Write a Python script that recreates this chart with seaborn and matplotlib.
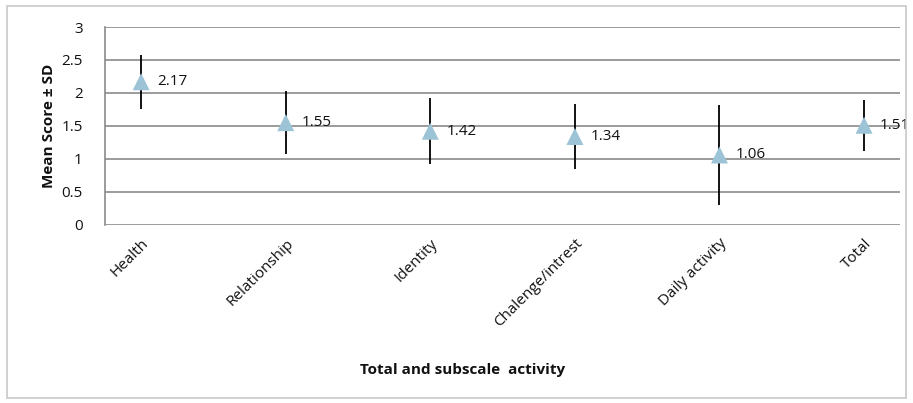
import matplotlib
matplotlib.use("Agg")
import matplotlib.pyplot as plt
from matplotlib.patches import Rectangle
import seaborn as sns
import pandas as pd

categories = ['Health', 'Relationship', 'Identity', 'Chalenge/intrest', 'Daily activity', 'Total']
means = [2.17, 1.55, 1.42, 1.34, 1.06, 1.51]
sds = [0.41, 0.48, 0.50, 0.50, 0.76, 0.39]

df = pd.DataFrame({'cat': categories, 'mean': means, 'sd': sds})
df['pos'] = range(len(df))

sns.set_style('white')
plt.rcParams['font.family'] = ['Open Sans', 'DejaVu Sans']
plt.rcParams['text.color'] = '#111111'
plt.rcParams['xtick.color'] = '#111111'
plt.rcParams['ytick.color'] = '#111111'
plt.rcParams['axes.labelcolor'] = '#111111'

fig = plt.figure(figsize=(9.13, 4.03), dpi=100)
ax = fig.add_axes([0.115, 0.442, 0.871, 0.491])

ax.errorbar(df['pos'], df['mean'], yerr=df['sd'], fmt='none', ecolor='black',
            elinewidth=1.3, capsize=0, zorder=2)
sns.scatterplot(data=df, x='pos', y='mean', marker='^', s=150, color='#9cc4d6',
                edgecolor='none', ax=ax, zorder=3)

for p, m in zip(df['pos'], df['mean']):
    ax.text(p + 0.11, m, f'{m:.2f}', va='center', ha='left', fontsize=11, zorder=4)

ax.set_xlim(-0.25, 5.25)
ax.set_ylim(0, 3)
ax.set_yticks([0, 0.5, 1, 1.5, 2, 2.5, 3])
ax.set_yticklabels(['0', '0.5', '1', '1.5', '2', '2.5', '3'], fontsize=11)
ax.set_xticks(df['pos'])
ax.set_xticklabels(categories, rotation=45, ha='right', rotation_mode='anchor', fontsize=11)
ax.tick_params(axis='y', length=0, pad=16)
ax.tick_params(axis='x', length=0, pad=8)
ax.yaxis.grid(True, color='#8a8a8a', linewidth=1.2)
ax.set_axisbelow(True)
for side in ['top', 'right', 'bottom']:
    ax.spines[side].set_visible(False)
ax.spines['left'].set_color('#8a8a8a')
ax.spines['left'].set_linewidth(1.2)

ax.set_xlabel('Total and subscale  activity', fontsize=11, fontweight='bold')
ax.set_ylabel('Mean Score \u00b1 SD', fontsize=11, fontweight='bold')
ax.xaxis.set_label_coords(0.45, -0.7)
ax.yaxis.set_label_coords(-0.062, 0.5)

fig.add_artist(Rectangle((0.008, 0.012), 0.984, 0.972, transform=fig.transFigure,
                         fill=False, edgecolor='#c8c8c8', linewidth=1.2))

fig.savefig('out.png', dpi=100)
